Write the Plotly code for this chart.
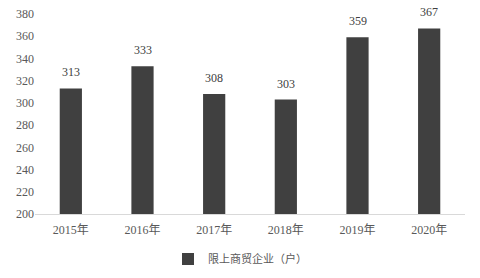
import plotly.graph_objects as go

categories = ["2015年", "2016年", "2017年", "2018年", "2019年", "2020年"]
values = [313, 333, 308, 303, 359, 367]
series_name = "限上商贸企业（户）"
y_ticks = list(range(200, 381, 20))

font_fam = "Liberation Serif, Times New Roman, Noto Sans CJK SC, serif"

fig = go.Figure()
fig.add_trace(go.Bar(
    x=categories, y=values, name=series_name,
    marker=dict(color="#404040", line=dict(width=0)),
    width=0.31,
))
for c, v in zip(categories, values):
    fig.add_annotation(x=c, y=v, text=str(v), showarrow=False, yanchor="bottom",
                       yshift=7, font=dict(family=font_fam, size=12, color="#404040"))
fig.update_layout(
    width=480, height=278,
    margin=dict(l=35, r=15, t=14, b=64, autoexpand=False),
    paper_bgcolor="white", plot_bgcolor="white",
    showlegend=True,
    legend=dict(orientation="h", x=0.5, xref="container", xanchor="center",
                y=(278 - 259) / 278, yref="container", yanchor="middle",
                font=dict(family="Noto Sans CJK SC", size=11, color="#595959"),
                itemwidth=30, tracegroupgap=0),
    font=dict(family=font_fam, size=12, color="#595959"),
)
fig.update_xaxes(showline=True, linecolor="#d9d9d9", linewidth=1, ticks="",
                 automargin=False, ticklabelstandoff=5,
                 tickfont=dict(family=font_fam, size=12, color="#595959"), showgrid=False)
fig.update_yaxes(range=[200, 380], tickvals=y_ticks, showgrid=False, zeroline=False,
                 automargin=False,
                 showline=False, ticks="", tickfont=dict(family=font_fam, size=12, color="#595959"))
fig.write_html("out.html")
